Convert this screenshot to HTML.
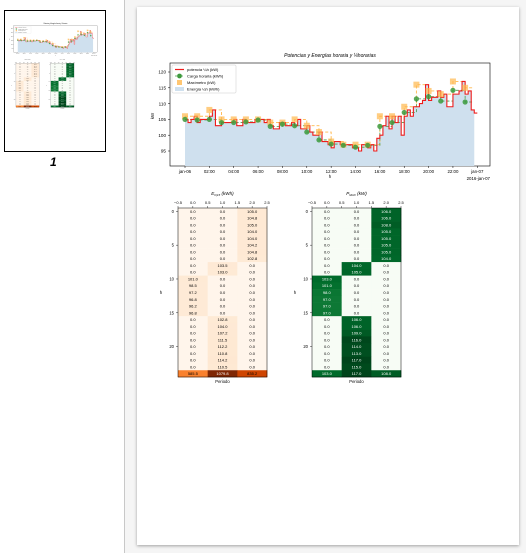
<!DOCTYPE html>
<html><head><meta charset="utf-8">
<style>
body{margin:0;width:526px;height:553px;overflow:hidden;background:#f5f5f5;font-family:"Liberation Sans",sans-serif;position:relative}
#side{position:absolute;left:0;top:0;width:124px;height:553px;background:#fff;border-right:1px solid #c8c8c8}
#thumb{position:absolute;left:4px;top:10px;width:100px;height:140px;border:1px solid #000;background:#fff;overflow:hidden}
#pnum{position:absolute;left:50px;top:155px;font-size:12px;font-style:italic;font-weight:bold}
#page{position:absolute;left:137px;top:7px;width:382px;height:538px;background:#fff;box-shadow:0 1px 3px rgba(0,0,0,.35)}
#s{position:absolute;left:0;top:0}
text{font-family:"Liberation Sans",sans-serif}
</style></head><body>
<div id="side">
<div id="thumb"><svg id="th" width="100" height="140" viewBox="137 7 382 538"></svg></div>
<div id="pnum">1</div>
</div>
<div id="page"></div>
<svg id="s" width="526" height="553"></svg>
<script>
const quarterKW=[105,104,105,106, 104,105,105,105, 106,108,103,103, 104,104,104,104,
105,103,103,105, 104,104,104,105, 105,105,104,105, 103,102,102,104,
104,103,103,104, 103,105,102,102, 103,101,100,100, 101,98,98,97,
96,98,98,97, 97,97,97,96, 96,95,97,97, 96,97,95,99,
100,103,106,102, 106,104,106,100, 106,108,106,109, 109,110,111,116,
111,112,112,114, 112,113,109,109, 113,113,114,117, 113,114,108,107];
const hourlyE=[105.0,104.8,105.0,104.0,104.0,104.2,104.8,102.8,103.5,103.0,101.0,98.5,97.2,96.8,96.2,96.8,102.8,104.0,107.2,111.5,112.2,110.8,114.2,110.5];
const hourlyMax=[106,106,108,105,105,105,105,104,104,105,103,101,98,97,97,97,106,106,109,116,114,113,117,115];
const yTicks=[95,100,105,110,115,120];
const xTickLabels=["jan-06","02:00","04:00","06:00","08:00","10:00","12:00","14:00","16:00","18:00","20:00","22:00","jan-07"];
const colTicks=["−0.5","0.0","0.5","1.0","1.5","2.0","2.5"];
const hourPeriod=[2,2,2,2,2,2,2,2,1,1,0,0,0,0,0,0,1,1,1,1,1,1,1,1];
const totalsE=[585.5,1079.8,835.2];
const totalsP=[103.0,117.0,108.0];

const S=document.getElementById('s');const NS='http://www.w3.org/2000/svg';
function el(t,a,txt){const e=document.createElementNS(NS,t);for(const k in a)e.setAttribute(k,a[k]);if(txt!==undefined)e.textContent=txt;S.appendChild(e);return e;}
const L=170,R=490,T=63,B=166;
const X=h=>185+h*(477.3-185)/24;
const Y=v=>151-(v-95)*15.8/5;
let e=el('rect',{x:L,y:T,width:R-L,height:B-T,fill:'none',stroke:'#000','stroke-width':0.6});

e=el('text',{x:(L+R)/2,y:57,'font-size':5,'font-style':'italic','text-anchor':'middle'},'Potencias y Energías horaria y ¼horarias');

let a='M'+X(0)+','+B;
for(let i=0;i<quarterKW.length;i++){const y=Y(quarterKW[i]);a+='L'+X(i/4)+','+y+'L'+X(Math.min((i+1)/4,23.75))+','+y;}
a+='L'+X(23.75)+','+B+'Z';
e=el('path',{d:a,fill:'#cfe0ee'});
function stepPath(arr){let p='';for(let i=0;i<arr.length;i++){p+=(i?'L':'M')+X(i)+','+Y(arr[i])+'L'+X(Math.min(i+1,23.6))+','+Y(arr[i]);}return p;}
e=el('path',{d:stepPath(hourlyMax),fill:'none',stroke:'#ffb84d','stroke-width':0.9,'stroke-dasharray':'3,2'});
e=el('path',{d:stepPath(hourlyE),fill:'none',stroke:'#4a9a4a','stroke-width':0.8,'stroke-dasharray':'3,2'});
let rd='';for(let i=0;i<quarterKW.length;i++){const y=Y(quarterKW[i]);rd+=(i?'L':'M')+X(i/4)+','+y;rd+='L'+X(i<quarterKW.length-1?(i+1)/4:24)+','+y;}
e=el('path',{d:rd,fill:'none',stroke:'#ee1c1c','stroke-width':1.1});
hourlyMax.forEach((v,i)=>{const m=el('rect',{x:X(i)-3,y:Y(v)-3,width:6,height:6,fill:'#ffb84d','fill-opacity':0.7});
});
hourlyE.forEach((v,i)=>{const m=el('circle',{cx:X(i),cy:Y(v),r:2.6,fill:'#3c9a3c','fill-opacity':0.85});
});
yTicks.forEach(v=>{el('line',{x1:L-2,x2:L,y1:Y(v),y2:Y(v),stroke:'#000','stroke-width':0.5});
const t=el('text',{x:L-4,y:Y(v)+1.7,'font-size':4.6,'text-anchor':'end'},v);});
xTickLabels.forEach((s,i)=>{const x=X(i*2);el('line',{x1:x,x2:x,y1:B,y2:B+2,stroke:'#000','stroke-width':0.5});
const t=el('text',{x:x,y:B+7,'font-size':4.4,'text-anchor':'middle'},s);});
e=el('text',{x:490,y:180,'font-size':4.4,'text-anchor':'end'},'2016-jan-07');
e=el('text',{x:330,y:178,'font-size':4.4,'text-anchor':'middle'},'h');
e=el('text',{x:154,y:116,'font-size':4.4,'text-anchor':'middle',transform:'rotate(-90 154 116)'},'kW');
e=el('rect',{x:172,y:65,width:64,height:28,fill:'#fff',stroke:'#ccc','stroke-width':0.5,rx:1});
el('line',{x1:175,x2:184,y1:69.5,y2:69.5,stroke:'#ee1c1c','stroke-width':1.2});
el('circle',{cx:179.5,cy:76,r:2.4,fill:'#3c9a3c'});el('line',{x1:175,x2:184,y1:76,y2:76,stroke:'#4a9a4a','stroke-width':0.7,'stroke-dasharray':'2,1'});
el('rect',{x:177,y:80,width:5,height:5,fill:'#ffb84d','fill-opacity':0.8});
el('rect',{x:175,y:87,width:9,height:4,fill:'#cfe0ee'});
[['potencia ¼h (kW)',71],['Carga horaria (kWh)',77.5],['Maxímetro (kW)',84],['Energía ¼h (kWh)',90.5]].forEach(([s,y])=>{const t=el('text',{x:187,y:y,'font-size':4},s);});

function lerp(c1,c2,t){return c1.map((v,i)=>Math.round(v+(c2[i]-v)*t));}
function cmap(stops,t){t=Math.max(0,Math.min(1,t));const n=stops.length-1;const k=Math.min(n-1,Math.floor(t*n));const c=lerp(stops[k],stops[k+1],t*n-k);return 'rgb('+c.join(',')+')';}
const oranges=[[255,245,235],[254,230,206],[253,208,162],[253,174,107],[253,141,60],[241,105,19],[217,72,1],[166,54,3],[127,39,4]];
const greens=[[247,252,245],[229,245,224],[199,233,192],[161,217,155],[116,196,118],[65,171,93],[35,139,69],[0,109,44],[0,68,27]];
function heat(x0,vals,totals,stops,vmax,whiteAbove,name){
  const x1=x0+89,top=208,rh=(377-208)/25,cw=89/3;
  const xs=v=>x0+(v+0.5)*cw;
  for(let r=0;r<25;r++)for(let c=0;c<3;c++){
    const v=r<24?(hourPeriod[r]===c?vals[r]:0):totals[c];
    const rc=el('rect',{x:x0+c*cw,y:top+r*rh,width:cw+0.3,height:rh+0.3,fill:cmap(stops,v/vmax)});
    
    const t=el('text',{x:xs(c),y:top+r*rh+rh/2+1.5,'font-size':4,'text-anchor':'middle',fill:v/vmax>whiteAbove?'#fff':'#000'},v.toFixed(1));
    
  }
  el('rect',{x:x0,y:top,width:89,height:169,fill:'none',stroke:'#000','stroke-width':0.5});
  colTicks.forEach((s,i)=>{const x=x0+i*cw/2;el('line',{x1:x,x2:x,y1:top-2,y2:top,stroke:'#000','stroke-width':0.4});
    const t=el('text',{x:x,y:top-4,'font-size':4,'text-anchor':'middle'},s);});
  [0,5,10,15,20].forEach(v=>{const y=top+(v+0.5)*rh;el('line',{x1:x0-2,x2:x0,y1:y,y2:y,stroke:'#000','stroke-width':0.4});
    const t=el('text',{x:x0-4,y:y+1.5,'font-size':4.2,'text-anchor':'end'},v);});
  let q=el('text',{x:(x0+x1)/2,y:383,'font-size':4.2,'text-anchor':'middle'},'Periodo');
  q=el('text',{x:x0-17,y:294,'font-size':4.4,'text-anchor':'middle'},'h');
}
heat(178,hourlyE,totalsE,oranges,1079.8,0.85,'energy-heatmap');
e=el('text',{x:222.5,y:195,'font-size':4.6,'font-style':'italic','text-anchor':'middle'});
e.innerHTML='E<tspan font-size="3" dy="1">h|15</tspan><tspan dy="-1"> (kWh)</tspan>';

heat(312,hourlyMax,totalsP,greens,117,0.5,'power-heatmap');
e=el('text',{x:356.5,y:195,'font-size':4.6,'font-style':'italic','text-anchor':'middle'});
e.innerHTML='P<tspan font-size="3" dy="1">MAX</tspan><tspan dy="-1"> (kW)</tspan>';

document.getElementById('th').innerHTML=S.innerHTML;
</script>
</body></html>
